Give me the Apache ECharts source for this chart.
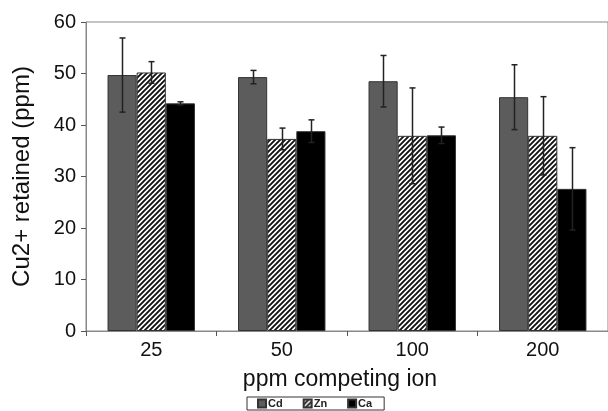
<!DOCTYPE html>
<html>
<head>
<meta charset="utf-8">
<script src="https://cdn.jsdelivr.net/npm/echarts@6/dist/echarts.min.js"></script>
<style>
  html, body { margin: 0; padding: 0; background: #fff; }
  #chart { width: 608px; height: 411px; }
</style>
</head>
<body>
<div id="chart"></div>
<script>
const categories = ["25", "50", "100", "200"];
const cdValues = [49.7, 49.3, 48.5, 45.4];
const cdErr = [7.2, 1.3, 5.0, 6.3];
const znValues = [50.2, 37.3, 37.9, 37.9];
const znErr = [2.1, 2.1, 9.3, 7.6];
const caValues = [44.2, 38.8, 38.0, 27.6];
const caErr = [0.3, 2.2, 1.6, 8.0];

const FONT = "Liberation Sans";

// diagonal hatch for Zn
function hatch() {
  const c = document.createElement("canvas");
  c.width = 5;
  c.height = 5;
  const g = c.getContext("2d");
  g.fillStyle = "#fff";
  g.fillRect(0, 0, 5, 5);
  g.strokeStyle = "#111";
  g.lineWidth = 1.9;
  g.beginPath();
  g.moveTo(0, 5); g.lineTo(5, 0);
  g.moveTo(-2.5, 2.5); g.lineTo(2.5, -2.5);
  g.moveTo(2.5, 7.5); g.lineTo(7.5, 2.5);
  g.stroke();
  return { image: c, repeat: "repeat" };
}

const GAP = 0.33;

function errSeries(values, errs, k) {
  return {
    type: "custom",
    z: 10,
    silent: true,
    data: values.map((v, i) => [i, v - errs[i], v + errs[i]]),
    renderItem(params, api) {
      const band = api.size([1, 0])[0];
      const bw = band * (1 - GAP) / 3;
      const dx = (k - 1) * bw;
      const lo = api.coord([api.value(0), api.value(1)]);
      const hi = api.coord([api.value(0), api.value(2)]);
      const x = Math.round(lo[0] + dx) + 0.5;
      const cap = 3;
      const style = { stroke: "#222", lineWidth: 1.5 };
      return {
        type: "group",
        children: [
          { type: "line", shape: { x1: x, y1: lo[1], x2: x, y2: hi[1] }, style },
          { type: "line", shape: { x1: x - cap, y1: hi[1], x2: x + cap, y2: hi[1] }, style },
          { type: "line", shape: { x1: x - cap, y1: lo[1], x2: x + cap, y2: lo[1] }, style },
        ],
      };
    },
  };
}

const chart = echarts.init(document.getElementById("chart"));
const bar = (name, data, color) => ({
  name,
  type: "bar",
  data,
  barGap: "0%",
  barCategoryGap: GAP * 100 + "%",
  itemStyle: { color, borderColor: "#333", borderWidth: 1 },
});

chart.setOption({
  animation: false,
  grid: {
    left: 86, top: 22, width: 526, bottom: 80,
    show: true, borderColor: "#888", borderWidth: 1,
  },
  legend: {
    left: 247, top: 397,
    padding: [1, 12, 1, 10],
    itemGap: 20,
    itemWidth: 8, itemHeight: 8,
    icon: "rect",
    borderColor: "#333", borderWidth: 1,
    textStyle: { fontFamily: FONT, fontSize: 11, fontWeight: "bold", color: "#222", padding: [0, 0, 0, -3] },
    data: ["Cd", "Zn", "Ca"],
  },
  xAxis: {
    type: "category",
    data: categories,
    name: "ppm competing ion",
    nameLocation: "middle",
    nameGap: 37,
    nameTextStyle: { fontFamily: FONT, fontSize: 23, color: "#111", padding: [0, 14, 0, 0] },
    axisLine: { lineStyle: { color: "#888", width: 1 } },
    axisTick: { show: true, length: 5, lineStyle: { color: "#555" } },
    axisLabel: { fontFamily: FONT, fontSize: 20, color: "#111", margin: 9 },
  },
  yAxis: {
    type: "value",
    min: 0, max: 60, interval: 10,
    name: "Cu2+ retained (ppm)",
    nameLocation: "middle",
    nameGap: 52,
    nameTextStyle: { fontFamily: FONT, fontSize: 24, color: "#111" },
    axisLine: { show: true, lineStyle: { color: "#888", width: 1 } },
    axisTick: { show: true, length: 5, lineStyle: { color: "#555" } },
    axisLabel: { fontFamily: FONT, fontSize: 20, color: "#111", margin: 10 },
    splitLine: { show: false },
  },
  series: [
    bar("Cd", cdValues, "#5c5c5c"),
    bar("Zn", znValues, hatch()),
    bar("Ca", caValues, "#000"),
    errSeries(cdValues, cdErr, 0),
    errSeries(znValues, znErr, 1),
    errSeries(caValues, caErr, 2),
  ],
});
</script>
</body>
</html>
